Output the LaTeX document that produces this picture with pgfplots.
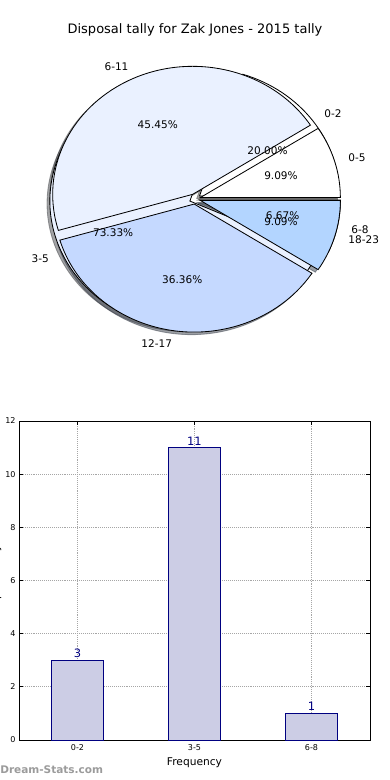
\documentclass[border=0pt]{standalone}
\usepackage{pgfplots}
\pgfplotsset{compat=1.18}
\usepackage{fontspec}
\setmainfont{DejaVu Sans}
\definecolor{c0}{RGB}{255,255,255}
\definecolor{c1}{RGB}{234,241,255}
\definecolor{c2}{RGB}{197,217,255}
\definecolor{c3}{RGB}{179,213,255}
\definecolor{barfill}{RGB}{204,205,229}
\definecolor{navyc}{RGB}{0,0,128}
\definecolor{wmark}{RGB}{155,155,155}
\newcommand\pxfont[1]{\fontsize{#1}{#1}\selectfont}
\newcommand\pielabfont{\pxfont{7.6pt}}
\pgfkeys{/pgf/number format/assume math mode=true}

% #1 total, #2 explode, #3 mode (0 shadow, 1 wedge, 2 labels), #4 list value/colour/label
\newcommand\pieslices[4]{%
  \xdef\cum{0}%
  \foreach \v/\col/\lab in {#4} {%
    \pgfmathsetmacro\pa{360*\cum/#1}%
    \pgfmathsetmacro\pb{360*(\cum+\v)/#1}%
    \pgfmathsetmacro\pmid{(\pa+\pb)/2}%
    \pgfmathsetmacro\ex{#2*cos(\pmid)}%
    \pgfmathsetmacro\ey{#2*sin(\pmid)}%
    \ifcase#3\relax
      \pgfmathsetmacro\sx{\ex-0.02}\pgfmathsetmacro\sy{\ey-0.02}%
      \edef\tmp{\noexpand\path[fill=\col!30!black, draw=\col!30!black, opacity=0.5, line width=0.6pt] (axis cs:\sx,\sy) -- ++(\pa:1.4in and 1.28in) arc[start angle=\pa, end angle=\pb, x radius=1.4in, y radius=1.28in] -- cycle;}\tmp
    \or
      \edef\tmp{\noexpand\path[fill=\col, draw=black, line width=0.6pt] (axis cs:\ex,\ey) -- ++(\pa:1.4in and 1.28in) arc[start angle=\pa, end angle=\pb, x radius=1.4in, y radius=1.28in] -- cycle;}\tmp
    \or
      \pgfmathsetmacro\lx{\ex+1.1*cos(\pmid)}%
      \pgfmathsetmacro\ly{\ey+1.1*sin(\pmid)}%
      \pgfmathsetmacro\qx{\ex+0.6*cos(\pmid)}%
      \pgfmathsetmacro\qy{\ey+0.6*sin(\pmid)}%
      \pgfmathsetmacro\pct{100*\v/#1}%
      \pgfmathsetmacro\cc{cos(\pmid)}%
      \ifdim\cc pt>0pt \def\anc{west}\else\def\anc{east}\fi
      \edef\tmp{\noexpand\node[anchor=\anc, font=\noexpand\pielabfont, inner sep=0pt] at (axis cs:\lx,\ly) {\lab};
        \noexpand\node[font=\noexpand\pielabfont, inner sep=0pt] at (axis cs:\qx,\qy) {\noexpand\pgfmathprintnumber[fixed,fixed zerofill,precision=2]{\pct}\noexpand\%};}\tmp
    \fi
    \pgfmathsetmacro\nc{\cum+\v}\xdef\cum{\nc}%
  }}

\begin{document}
\begin{tikzpicture}
\useasboundingbox (0,0) rectangle (3.9in,7.8in);
\node[font=\pxfont{9.4pt}] at (1.95in,7.50in) {Disposal tally for Zak Jones - 2015 tally};

% Pie charts
\begin{axis}[at={(1.95in,5.81in)}, anchor=origin, scale only axis,
  width=3.78in, height=3.456in, xmin=-1.35, xmax=1.35, ymin=-1.35, ymax=1.35,
  hide axis, clip=false]
  \pieslices{15}{0.04}{0}{3/c0/0-2, 11/c1/3-5, 1/c2/6-8}
  \pieslices{11}{0.04}{0}{1/c0/0-5, 5/c1/6-11, 4/c2/12-17, 1/c3/18-23}
  \pieslices{15}{0.04}{1}{3/c0/0-2, 11/c1/3-5, 1/c2/6-8}
  \pieslices{11}{0.04}{1}{1/c0/0-5, 5/c1/6-11, 4/c2/12-17, 1/c3/18-23}
  \pieslices{15}{0.04}{2}{3/c0/0-2, 11/c1/3-5, 1/c2/6-8}
  \pieslices{11}{0.04}{2}{1/c0/0-5, 5/c1/6-11, 4/c2/12-17, 1/c3/18-23}
\end{axis}

% Bar chart
\begin{axis}[at={(0.19in,0.40in)}, anchor=south west, scale only axis,
  width=3.51in, height=3.19in,
  xmin=-0.5, xmax=2.5, ymin=0, ymax=12,
  ytick={0,2,...,12}, xtick={0,1,2}, xticklabels={0-2,3-5,6-8},
  ybar, bar width=0.45,
  grid=major, grid style={densely dotted, black!35, line width=0.6pt},
  tick align=inside, major tick length=3pt,
  tick style={black, line width=0.5pt},
  axis line style={line width=0.7pt},
  ticklabel style={font=\pxfont{5.8pt}},
  yticklabel style={xshift=1pt},
  xlabel={Frequency}, ylabel={Disposal tally},
  xlabel style={font=\pxfont{7.7pt}, yshift=2pt},
  ylabel style={font=\pxfont{7.7pt}},
  ylabel shift=-4pt,
  nodes near coords,
  nodes near coords style={navyc, font=\pxfont{8.3pt}, inner sep=1.5pt},
]
\addplot[fill=barfill, draw=navyc, line width=0.6pt] coordinates {(0,3) (1,11) (2,1)};
\end{axis}

\node[anchor=west, inner sep=0pt, font=\pxfont{7.6pt}\bfseries, text=wmark] at (0in,0.10in) {Dream-Stats.com};
\end{tikzpicture}
\end{document}
